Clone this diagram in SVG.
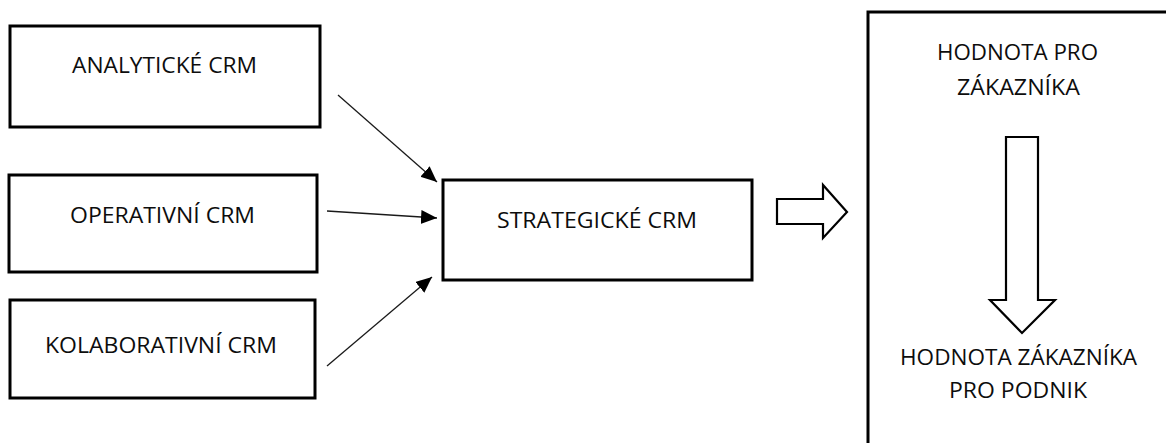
<svg xmlns="http://www.w3.org/2000/svg" width="1166" height="443" viewBox="0 0 1166 443">
  <style>
    .box { fill: #ffffff; stroke: #000000; stroke-width: 3; }
    .lbl { font-family: "Open Sans", "Liberation Sans", sans-serif; font-size: 22px; fill: #0d0d0d; text-anchor: middle; }
    .conn { stroke: #1a1a1a; stroke-width: 1.3; fill: none; }
    .block { fill: #ffffff; stroke: #000000; stroke-width: 2.2; stroke-linejoin: miter; }
  </style>
  <defs>
    <marker id="tri" markerUnits="userSpaceOnUse" markerWidth="18" markerHeight="16" refX="16" refY="7" orient="auto">
      <path d="M0,0 L16,7 L0,14 Z" fill="#000000"/>
    </marker>
  </defs>
  <rect width="1166" height="443" fill="#ffffff"/>

  <g id="analyticke">
    <rect class="box" x="10" y="26" width="310" height="101"/>
    <text class="lbl" x="164.5" y="73" textLength="185" lengthAdjust="spacingAndGlyphs">ANALYTICKÉ CRM</text>
  </g>

  <g id="operativni">
    <rect class="box" x="9" y="175" width="308" height="97"/>
    <text class="lbl" x="162.5" y="223" textLength="185" lengthAdjust="spacingAndGlyphs">OPERATIVNÍ CRM</text>
  </g>

  <g id="kolaborativni">
    <rect class="box" x="10" y="300" width="305" height="98"/>
    <text class="lbl" x="161" y="353" textLength="232" lengthAdjust="spacingAndGlyphs">KOLABORATIVNÍ CRM</text>
  </g>

  <g id="strategicke">
    <rect class="box" x="443" y="180" width="309" height="100"/>
    <text class="lbl" x="597" y="228" textLength="200" lengthAdjust="spacingAndGlyphs">STRATEGICKÉ CRM</text>
  </g>

  <g id="hodnota">
    <rect class="box" x="868" y="12" width="310" height="450"/>
    <text class="lbl" x="1017.5" y="60" textLength="161" lengthAdjust="spacingAndGlyphs">HODNOTA PRO</text>
    <text class="lbl" x="1018.5" y="95" textLength="123" lengthAdjust="spacingAndGlyphs">ZÁKAZNÍKA</text>
    <path class="block" d="M1006,137 L1038,137 L1038,300 L1055,300 L1022,333 L990,300 L1006,300 Z"/>
    <text class="lbl" x="1018.5" y="365" textLength="237" lengthAdjust="spacingAndGlyphs">HODNOTA ZÁKAZNÍKA</text>
    <text class="lbl" x="1018" y="398" textLength="138" lengthAdjust="spacingAndGlyphs">PRO PODNIK</text>
  </g>

  <g id="connectors">
    <line class="conn" x1="338" y1="95" x2="437" y2="182" marker-end="url(#tri)"/>
    <line class="conn" x1="327" y1="211" x2="437" y2="218" marker-end="url(#tri)"/>
    <line class="conn" x1="327" y1="366" x2="432" y2="277" marker-end="url(#tri)"/>
    <path class="block" d="M777,199 L823,199 L823,185 L847,212 L823,238 L823,224 L777,224 Z"/>
  </g>
</svg>
